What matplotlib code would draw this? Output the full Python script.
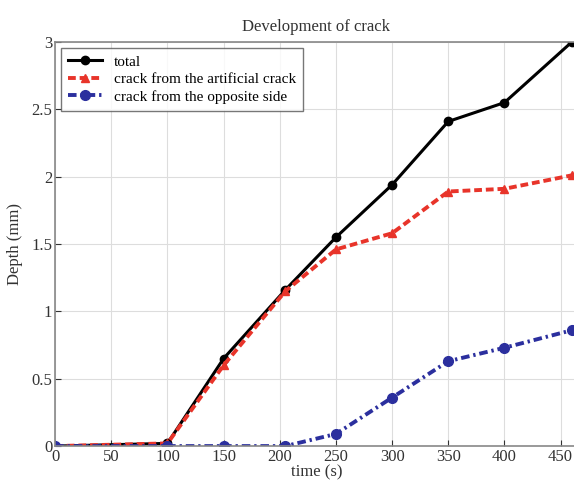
import matplotlib.pyplot as plt
import numpy as np

plt.rcParams['font.family'] = ['Liberation Serif', 'DejaVu Serif']

# time points (s)
time_s = [0, 100, 150, 205, 250, 300, 350, 400, 460]
# crack depths (mm)
total = [0.0, 0.02, 0.65, 1.16, 1.55, 1.94, 2.41, 2.55, 3.0]
artificial = [0.0, 0.02, 0.60, 1.15, 1.46, 1.58, 1.89, 1.91, 2.01]
opposite = [0.0, 0.0, 0.0, 0.0, 0.09, 0.36, 0.63, 0.73, 0.86]

labels = ['total', 'crack from the artificial crack', 'crack from the opposite side']

fig = plt.figure(figsize=(5.74, 4.94), dpi=100)
ax = fig.add_axes([0.096, 0.097, 0.91, 0.818])

ax.plot(time_s, total, '-', color='black', lw=2.2, marker='o', ms=6, label=labels[0])
ax.plot(time_s, artificial, color='#e8342a', lw=2.8, marker='^', ms=6,
        dashes=(2.0, 1.0), label=labels[1])
ax.plot(time_s, opposite, color='#2b2f9e', lw=2.8, marker='o', ms=7,
        dashes=(2.2, 1.0, 0.6, 1.0), label=labels[2])

ax.set_xlim(0, 465)
ax.set_ylim(0, 3)
ax.set_xticks(np.arange(0, 451, 50))
ax.set_yticks([0, 0.5, 1, 1.5, 2, 2.5, 3])
ax.set_yticklabels(['0', '0.5', '1', '1.5', '2', '2.5', '3'])
ax.tick_params(direction='in', labelsize=12, colors='#333333', length=4, pad=2)
ax.grid(True, color='#dddddd', lw=0.8)
for s in ax.spines.values():
    s.set_color('#888888')
    s.set_linewidth(1.2)

ax.set_title('Development of crack', fontsize=12, color='#333333', pad=8)
ax.set_xlabel('time (s)', fontsize=12, color='#333333', labelpad=0)
ax.set_ylabel('Depth (mm)', fontsize=12, color='#333333', labelpad=6)

leg = ax.legend(loc='upper left', fontsize=11, fancybox=False, edgecolor='#555555',
                handlelength=2.2, borderaxespad=0.4, labelspacing=0.25, borderpad=0.45)
leg.get_frame().set_linewidth(1.0)

fig.savefig('out.png', dpi=100)
